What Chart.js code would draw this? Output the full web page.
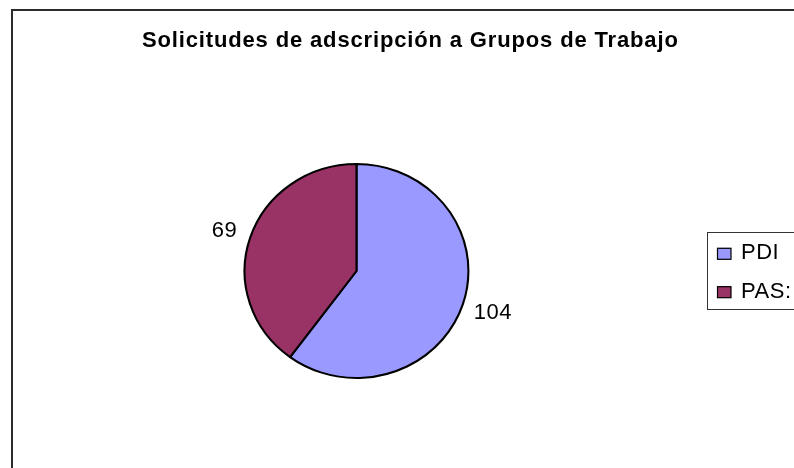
<!DOCTYPE html>
<html>
<head>
<meta charset="utf-8">
<script src="https://cdn.jsdelivr.net/npm/chart.js@4.4.1/dist/chart.umd.min.js"></script>
<style>
  html, body { margin: 0; padding: 0; background: #fff; }
  #wrap { width: 794px; height: 468px; position: relative; }
</style>
</head>
<body>
<div id="wrap"><canvas id="c" width="794" height="468"></canvas></div>
<script>
const chartTitle = 'Solicitudes de adscripción a Grupos de Trabajo';
const categories = ['PDI', 'PAS:'];
const values = [104, 69];
const colors = ['#9999FF', '#993366'];

const SX = 1.046; // horizontal stretch of the pie (elliptical look)
const FONT = '"Liberation Sans", Arial, sans-serif';

const decor = {
  id: 'decor',
  beforeDraw(chart) {
    const ctx = chart.ctx;
    ctx.save();
    ctx.fillStyle = '#fff';
    ctx.fillRect(0, 0, chart.width, chart.height);
    ctx.strokeStyle = '#2b2b2b';
    ctx.lineWidth = 2;
    ctx.strokeRect(12, 10, chart.width + 20, chart.height + 20);
    ctx.fillStyle = '#000';
    ctx.font = 'bold 22px ' + FONT;
    try { ctx.letterSpacing = '0.85px'; } catch (e) {}
    ctx.textAlign = 'left';
    ctx.textBaseline = 'alphabetic';
    ctx.fillText(chartTitle, 142, 46.5);
    ctx.restore();
  },
  beforeDatasetsDraw(chart) {
    const ctx = chart.ctx;
    const a = chart.getDatasetMeta(0).data[0];
    ctx.save();
    ctx.translate(a.x, a.y);
    ctx.scale(SX, 1);
    ctx.translate(-a.x, -a.y);
  },
  afterDatasetsDraw(chart) {
    const ctx = chart.ctx;
    ctx.restore();
    const meta = chart.getDatasetMeta(0);
    ctx.save();
    ctx.fillStyle = '#000';
    ctx.font = '22px ' + FONT;
    try { ctx.letterSpacing = '0.5px'; } catch (e) {}
    meta.data.forEach((arc, i) => {
      const mid = (arc.startAngle + arc.endAngle) / 2;
      const r = arc.outerRadius + 1;
      const c = Math.cos(mid), s = Math.sin(mid);
      const ax = arc.x + c * r * SX + (c >= 0 ? 10 : -12);
      const ay = arc.y + s * r;
      ctx.textAlign = c >= 0 ? 'left' : 'right';
      ctx.textBaseline = 'alphabetic';
      const baseY = s >= 0 ? ay + 14 : ay;
      ctx.fillText(String(values[i]), ax, baseY);
    });
    // legend
    ctx.strokeStyle = '#333';
    ctx.lineWidth = 1;
    ctx.strokeRect(707.5, 232.5, 200, 77);
    categories.forEach((lab, i) => {
      const base = 259.3 + i * 38.4;
      ctx.fillStyle = colors[i];
      ctx.fillRect(717, base - 11.5, 14, 11.5);
      ctx.strokeStyle = '#000';
      ctx.lineWidth = 1.2;
      ctx.strokeRect(717.5, base - 11, 13.5, 11);
      ctx.fillStyle = '#000';
      ctx.textAlign = 'left';
      ctx.textBaseline = 'alphabetic';
      ctx.fillText(lab, 741, base);
    });
    ctx.restore();
  }
};

new Chart(document.getElementById('c'), {
  type: 'pie',
  data: {
    labels: categories,
    datasets: [{
      data: values,
      backgroundColor: colors,
      borderColor: '#000',
      borderWidth: 2,
      hoverOffset: 0
    }]
  },
  options: {
    responsive: false,
    animation: false,
    events: [],
    layout: { padding: { left: 248, right: 329, top: 163, bottom: 89 } },
    plugins: {
      legend: { display: false },
      title: { display: false },
      tooltip: { enabled: false }
    }
  },
  plugins: [decor]
});
</script>
</body>
</html>
